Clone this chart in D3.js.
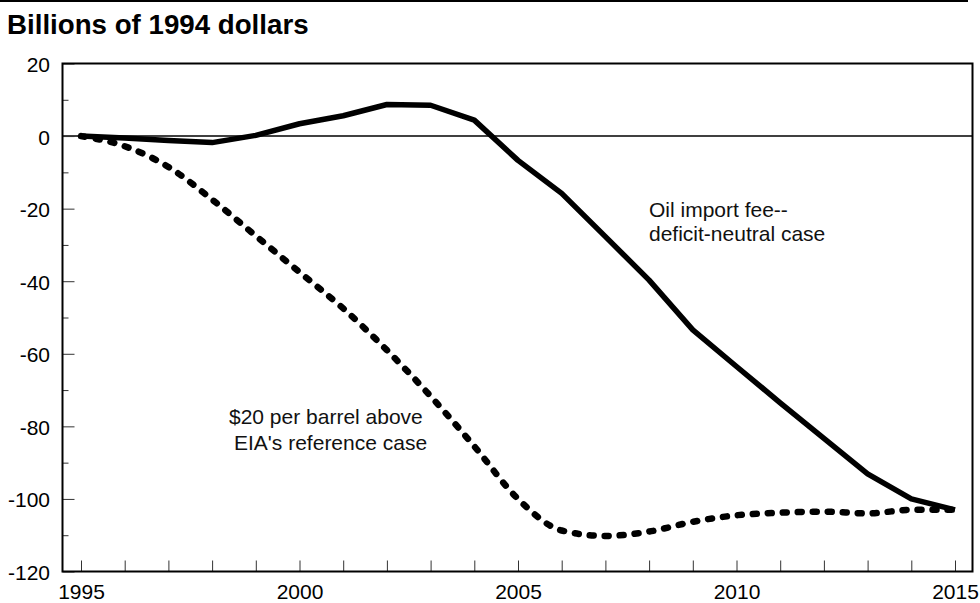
<!DOCTYPE html>
<html>
<head>
<meta charset="utf-8">
<script src="https://cdn.jsdelivr.net/npm/d3@7"></script>
<style>
  body { margin: 0; background: #fff; }
  svg { display: block; font-family: "Liberation Sans", Arial, sans-serif; }
</style>
</head>
<body>
<svg id="chart" width="980" height="603"></svg>
<script>
// years on the x axis
const years = d3.range(1995, 2016);
// oil import fee, deficit-neutral case (billions of 1994 dollars)
const oilFee = [0, -0.5, -1.2, -1.8, 0.2, 3.4, 5.6, 8.7, 8.5, 4.4, -6.7, -15.8, -27.7, -39.7, -53.4, -63.5, -73.5, -83.3, -93.1, -100, -103];
// $20 per barrel above EIA's reference case
const highPrice = [0, -2.8, -8.5, -17.5, -27.5, -37.5, -47.5, -59, -71.7, -85.5, -100, -108.7, -110.2, -109, -106.3, -104.5, -103.8, -103.5, -104, -103, -103];
const yMajor = [-120, -100, -80, -60, -40, -20, 0, 20];
const yMinor = [-110, -90, -70, -50, -30, -10, 10];
const xLabels = [1995, 2000, 2005, 2010, 2015];

const svg = d3.select("#chart");
const frame = {l: 62.5, r: 972.5, t: 63.5, b: 571.5};

var x = d3.scaleLinear().domain([1995, 2015]).range([81, 955]);
var y = d3.scaleLinear().domain([-120, 20]).range([frame.b, frame.t]);

// plain hyphen for negatives, like the original
var fmt = function(d) { return String(d); };

// top rule + title
svg.append("line").attr("x1", 0).attr("x2", 968).attr("y1", 1).attr("y2", 1)
    .attr("stroke", "#000").attr("stroke-width", 2);
svg.append("text").attr("x", 7).attr("y", 34)
    .attr("font-size", 27.7).attr("font-weight", "bold")
    .text("Billions of 1994 dollars");

// zero line
svg.append("line")
    .attr("x1", frame.l).attr("x2", frame.r)
    .attr("y1", y(0)).attr("y2", y(0))
    .attr("stroke", "#000").attr("stroke-width", 1.5);

// x ticks (inside) and labels
var xTicks = svg.append("g").attr("transform", `translate(0,${frame.b})`)
    .call(d3.axisBottom(x).tickValues(years).tickSize(-11).tickFormat(""));
var xLab = svg.append("g").attr("transform", `translate(0,${frame.b})`)
    .call(d3.axisBottom(x).tickValues(xLabels).tickSize(0).tickPadding(13).tickFormat(fmt));

// y ticks (inside) and labels
var yTicks = svg.append("g").attr("transform", `translate(${frame.l},0)`)
    .call(d3.axisLeft(y).tickValues(yMajor).tickSize(-12).tickPadding(12.5).tickFormat(fmt));
var yMin = svg.append("g").attr("transform", `translate(${frame.l},0)`)
    .call(d3.axisLeft(y).tickValues(yMinor).tickSize(-6).tickFormat(""));

[xTicks, xLab, yTicks, yMin].forEach(function(g) {
    g.select(".domain").remove();
    g.selectAll(".tick line").attr("stroke", "#333").attr("stroke-width", 1);
    g.selectAll("text").attr("font-size", 21).attr("fill", "#000")
        .attr("font-family", "Liberation Sans, Arial, sans-serif");
});
yTicks.selectAll("text").attr("dy", "0.38em");

// frame
svg.append("rect")
    .attr("x", frame.l).attr("y", frame.t)
    .attr("width", frame.r - frame.l).attr("height", frame.b - frame.t)
    .attr("fill", "none").attr("stroke", "#000").attr("stroke-width", 2);

// lines
var solidLine = d3.line()
    .x(function(d, i) { return x(years[i]); })
    .y(function(d) { return y(d); });
var dashLine = d3.line()
    .x(function(d, i) { return x(years[i]); })
    .y(function(d) { return y(d); })
    .curve(d3.curveMonotoneX);

svg.append("path").datum(highPrice)
    .attr("d", dashLine)
    .attr("fill", "none").attr("stroke", "#000")
    .attr("stroke-width", 6.5).attr("stroke-linecap", "round")
    .attr("stroke-dasharray", "4,11");

svg.append("path").datum(oilFee)
    .attr("d", solidLine)
    .attr("fill", "none").attr("stroke", "#000")
    .attr("stroke-width", 5.5).attr("stroke-linejoin", "round");

// annotations
var oilLabel = svg.append("text").attr("font-size", 21).attr("fill", "#111");
oilLabel.append("tspan").attr("x", 649).attr("y", 217).text("Oil import fee--");
oilLabel.append("tspan").attr("x", 649).attr("y", 241).text("deficit-neutral case");

var highLabel = svg.append("text").attr("font-size", 21).attr("fill", "#111");
highLabel.append("tspan").attr("x", 229).attr("y", 424).text("$20 per barrel above");
highLabel.append("tspan").attr("x", 234).attr("y", 450).text("EIA's reference case");
</script>
</body>
</html>
